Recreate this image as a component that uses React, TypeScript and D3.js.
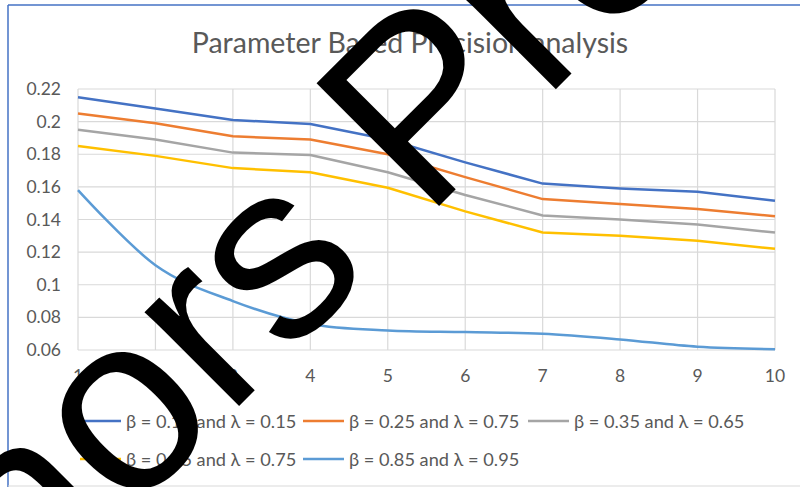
import React from "react";
import * as d3 from "d3";

const categories = [1, 2, 3, 4, 5, 6, 7, 8, 9, 10];
const seriesNames = [
  "β = 0.15 and λ = 0.15",
  "β = 0.25 and λ = 0.75",
  "β = 0.35 and λ = 0.65",
  "β = 0.45 and λ = 0.75",
  "β = 0.85 and λ = 0.95",
];
const s1 = [0.215, 0.208, 0.201, 0.1985, 0.189, 0.175, 0.162, 0.159, 0.157, 0.1515];
const s2 = [0.205, 0.199, 0.191, 0.189, 0.18, 0.166, 0.1525, 0.1495, 0.1465, 0.142];
const s3 = [0.195, 0.189, 0.181, 0.1795, 0.169, 0.155, 0.1425, 0.14, 0.137, 0.132];
const s4 = [0.185, 0.179, 0.1715, 0.169, 0.1595, 0.145, 0.132, 0.13, 0.127, 0.122];
const s5 = [0.158, 0.112, 0.09, 0.076, 0.072, 0.071, 0.07, 0.0665, 0.062, 0.0605];
const yTicks = [0.06, 0.08, 0.1, 0.12, 0.14, 0.16, 0.18, 0.2, 0.22];
const title = "Parameter Based Precision analysis";
const watermark = "Authors Proof";

const colors = ["#4472C4", "#ED7D31", "#A5A5A5", "#FFC000", "#5B9BD5"];

export default function App() {
  const W = 800, H = 487;
  const x = d3.scaleLinear().domain([1, 10]).range([78, 775]);
  const y = d3.scaleLinear().domain([0.06, 0.22]).range([350, 89]);
  const all = [s1, s2, s3, s4, s5];
  const straight = d3.line<number>().x((_, i) => x(categories[i])).y((d) => y(d));
  const smooth = d3
    .line<number>()
    .x((_, i) => x(categories[i]))
    .y((d) => y(d))
    .curve(d3.curveCardinal.tension(0));
  const font = "Lato, 'Open Sans', sans-serif";
  const grey = "#595959";
  const legendPos = [
    { x: 80, y: 421 },
    { x: 303, y: 421 },
    { x: 528, y: 421 },
    { x: 80, y: 459 },
    { x: 303, y: 459 },
  ];
  const fs = 252;
  return (
    <svg
      width={W}
      height={H}
      style={{ position: "absolute", left: 0, top: 0, background: "#fff" }}
    >
      <rect x={0} y={0} width={W} height={H} fill="#fff" />
      {/* frame */}
      <line x1={8} y1={5} x2={800} y2={5} stroke="#4472C4" strokeWidth={1.5} />
      <line x1={8} y1={5} x2={8} y2={487} stroke="#4472C4" strokeWidth={1.5} />
      <line x1={8} y1={486} x2={800} y2={486} stroke="#d9d9d9" strokeWidth={1} />
      {/* title */}
      <text x={410} y={53} textAnchor="middle" fontFamily={font} fontSize={28.5} fill={grey}>
        {title}
      </text>
      {/* gridlines */}
      {yTicks.map((t) => (
        <line key={"h" + t} x1={x(1)} x2={x(10)} y1={y(t)} y2={y(t)} stroke="#d9d9d9" strokeWidth={1.2} />
      ))}
      {categories.map((c) => (
        <line key={"v" + c} x1={x(c)} x2={x(c)} y1={y(0.22)} y2={y(0.06)} stroke="#d9d9d9" strokeWidth={1.2} />
      ))}
      {/* y labels */}
      {yTicks.map((t) => (
        <text key={"yl" + t} x={61} y={y(t) + 6} textAnchor="end" fontFamily={font} fontSize={17.5} fill={grey}>
          {String(+t.toFixed(2))}
        </text>
      ))}
      {/* x labels */}
      {categories.map((c) => (
        <text key={"xl" + c} x={x(c)} y={382} textAnchor="middle" fontFamily={font} fontSize={17.5} fill={grey}>
          {c}
        </text>
      ))}
      {/* series */}
      {all.map((s, i) => (
        <path
          key={"s" + i}
          d={(i === 4 ? smooth : straight)(s) || ""}
          fill="none"
          stroke={colors[i]}
          strokeWidth={2.5}
          strokeLinejoin="round"
        />
      ))}
      {/* legend */}
      {seriesNames.map((n, i) => (
        <g key={"lg" + i}>
          <line
            x1={legendPos[i].x}
            x2={legendPos[i].x + 41}
            y1={legendPos[i].y}
            y2={legendPos[i].y}
            stroke={colors[i]}
            strokeWidth={2.5}
          />
          <text
            x={legendPos[i].x + 46}
            y={legendPos[i].y + 6.5}
            fontFamily={font}
            fontSize={18.2}
            fill={grey}
          >
            {n}
          </text>
        </g>
      ))}
      {/* watermark */}
      <text
        transform={`translate(-239,884) rotate(-45)`}
        fontFamily="'Liberation Sans', Arial, sans-serif"
        fontSize={fs}
        fill="#000"
      >
        {watermark}
      </text>
    </svg>
  );
}
